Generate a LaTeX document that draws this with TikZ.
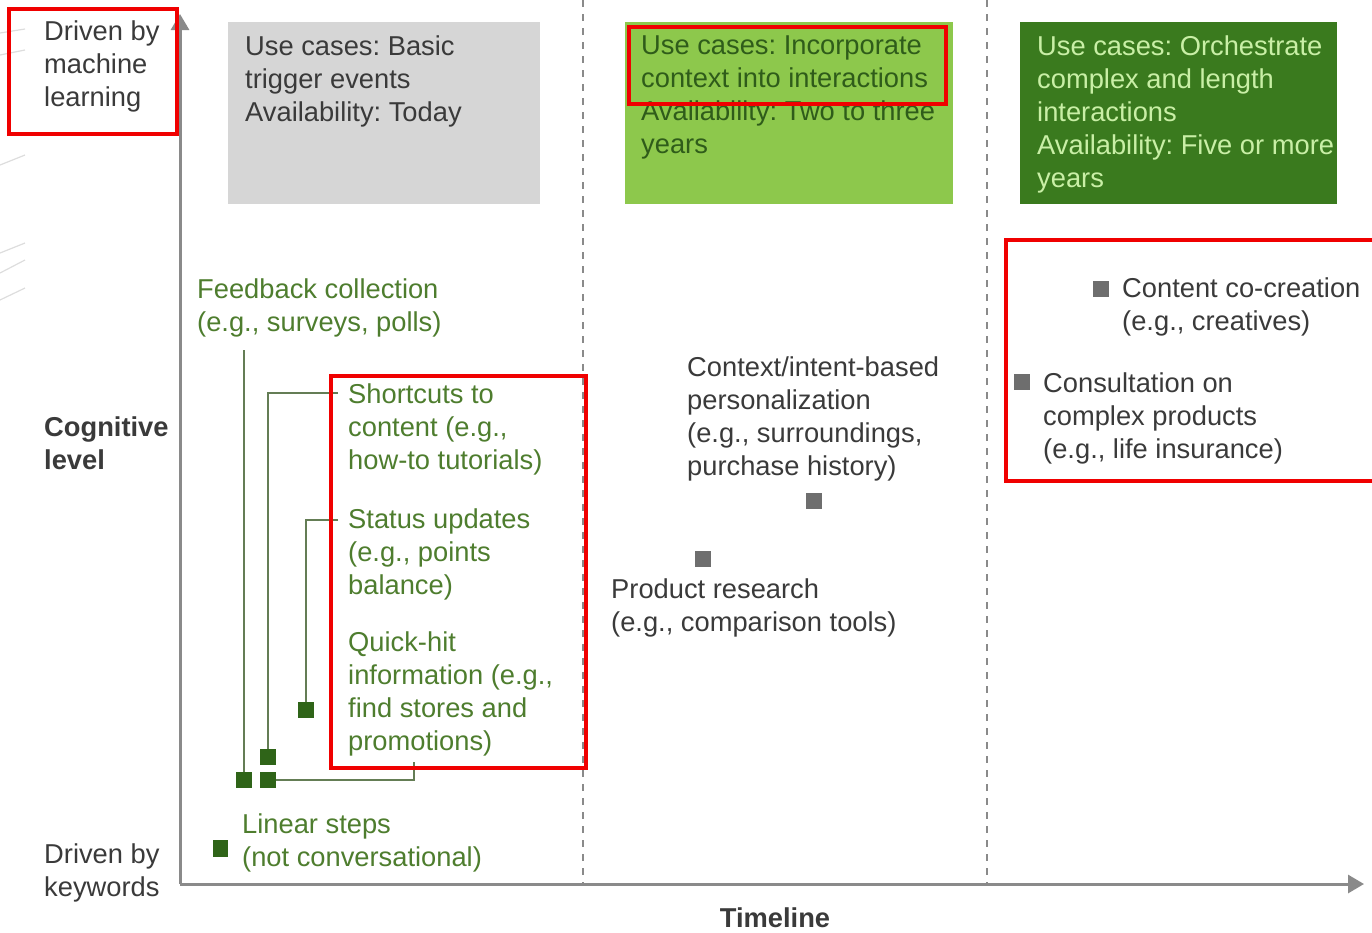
\documentclass[tikz,border=0pt]{standalone}
\usepackage{fontspec}
\setmainfont{Liberation Sans}
\frenchspacing
\usetikzlibrary{arrows.meta}
\definecolor{inkgray}{HTML}{3A3A3A}
\definecolor{inkgreen}{HTML}{4E7D2E}
\definecolor{axisgray}{HTML}{8A8A8A}
\definecolor{boxgray}{HTML}{D6D6D6}
\definecolor{boxlight}{HTML}{8DC84C}
\definecolor{boxdark}{HTML}{3A7A1E}
\definecolor{textlight}{HTML}{C9EFA6}
\definecolor{textdark}{HTML}{2F5C1A}
\definecolor{markgreen}{HTML}{2F6418}
\definecolor{markgray}{HTML}{6E6E6E}
\definecolor{linkgreen}{HTML}{647D55}
\definecolor{flagred}{HTML}{F00000}
\definecolor{edgegray}{HTML}{DDDDDD}
\begin{document}
\begin{tikzpicture}[x=1pt,y=-1pt,
  lbl/.style={font=\fontsize{27.3}{33}\selectfont, align=left, anchor=north west, inner sep=0pt, text=inkgray},
  greenlbl/.style={lbl, text=inkgreen},
  boldlbl/.style={lbl, font=\fontsize{27.3}{33}\selectfont\bfseries},
  gsq/.style={fill=markgreen, minimum size=16pt, inner sep=0pt, draw=none},
  ysq/.style={fill=markgray, minimum size=16pt, inner sep=0pt, draw=none},
  link/.style={draw=linkgreen, line width=1.8pt},
  divider/.style={draw=axisgray, line width=1.2pt, dash pattern=on 7pt off 7pt},
  axis/.style={draw=axisgray, line width=3pt, -{Triangle[length=16pt,width=18pt]}},
  flag/.style={draw=flagred, line width=4.5pt}
]
\useasboundingbox (0,0) rectangle (1372,932);

% faint strokes along the left edge
\foreach \ya/\yb in {33/29, 55/50, 165/155, 253/243, 273/260, 300/288}
  \draw[edgegray, line width=1.2pt] (0,\ya) -- (25,\yb);

% phase dividers
\draw[divider] (583,0) -- (583,885);
\draw[divider] (987,0) -- (987,885);

% axes
\coordinate (origin) at (180,884);
\coordinate (ytop) at (180,14);
\coordinate (xend) at (1364,884);
\draw[axis] (origin) -- (ytop);
\draw[axis] (origin) -- (xend);

% phase boxes
\fill[boxgray] (228,22) rectangle (540,204);
\fill[boxlight] (625,22) rectangle (953,204);
\fill[boxdark] (1020,22) rectangle (1337,204);
\node[lbl] (p1) at (245,36) {Use cases: Basic\\trigger events\\Availability: Today};
\node[lbl, text=textdark] (p2) at (641,36) {Use cases: Incorporate\\context into interactions\\Availability: Two to three\\years};
\node[lbl, text=textlight] (p3) at (1037,36) {Use cases: Orchestrate\\complex and length\\interactions\\Availability: Five or more\\years};

% axis labels
\node[lbl] (ml) at (44,21) {Driven by\\machine\\learning};
\node[boldlbl] (cog) at (44,417) {Cognitive\\level};
\node[lbl] (kw) at (44,844) {Driven by\\keywords};
\node[boldlbl, anchor=center] (tl) at (775,918) {Timeline};

% first phase items
\node[greenlbl] (fb) at (197,279) {Feedback collection\\(e.g., surveys, polls)};
\node[greenlbl] (sc) at (348,384) {Shortcuts to\\content (e.g.,\\how-to tutorials)};
\node[greenlbl] (su) at (348,509) {Status updates\\(e.g., points\\balance)};
\node[greenlbl] (qh) at (348,632) {Quick-hit\\information (e.g.,\\find stores and\\promotions)};
\node[greenlbl] (ls) at (242,814) {Linear steps\\(not conversational)};

\node[gsq] (mfb) at (244,780) {};
\node[gsq] (msc) at (268,757) {};
\node[gsq] (mqh) at (268,780) {};
\node[gsq] (msu) at (306,710) {};
\node[gsq, minimum width=15pt, minimum height=17pt] (mls) at (220,848) {};

\coordinate (fbfoot) at (244,350);
\coordinate (sctail) at (338,393);
\coordinate (sutail) at (338,520);
\coordinate (qhtail) at (414,762);
\draw[link] (fbfoot) -- (mfb);
\draw[link] (sctail) -| (msc);
\draw[link] (sutail) -| (msu);
\draw[link] (qhtail) |- (mqh);

% second phase items
\node[lbl] (ctx) at (687,357) {Context/intent-based\\personalization\\(e.g., surroundings,\\purchase history)};
\node[lbl] (pr) at (611,579) {Product research\\(e.g., comparison tools)};
\node[ysq] (mctx) at (814,501) {};
\node[ysq] (mpr) at (703,559) {};

% third phase items
\node[lbl] (cc) at (1122,278) {Content co-creation\\(e.g., creatives)};
\node[lbl] (cons) at (1043,373) {Consultation on\\complex products\\(e.g., life insurance)};
\node[ysq] (mcc) at (1101,289) {};
\node[ysq] (mcons) at (1022,382) {};

% highlight frames
\draw[flag] (9,9) rectangle (177,134);
\draw[flag] (629,27) rectangle (946,104);
\draw[flag] (331,376) rectangle (586,768);
\draw[flag] (1006,240) rectangle (1380,481);
\end{tikzpicture}
\end{document}
